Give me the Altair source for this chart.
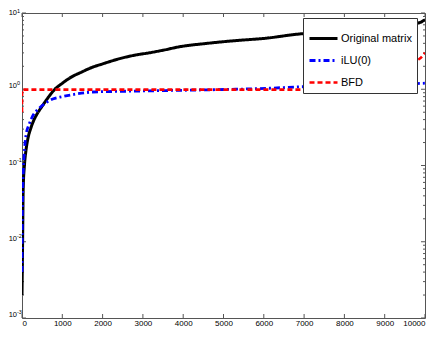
import altair as alt
import pandas as pd

# ---- data ----
series_names = ["Original matrix", "iLU(0)", "BFD"]

orig_x = [0, 15, 30, 60, 100, 150, 220, 300, 400, 500, 650, 800, 1000, 1200, 1500, 1700,
          2000, 2400, 2800, 3150, 3500, 3900, 4600, 5200, 6100, 6800, 7400, 8000, 8600,
          9200, 9700, 9900, 10000]
orig_y = [0.002, 0.01, 0.05, 0.1, 0.16, 0.23, 0.31, 0.4, 0.5, 0.6, 0.78, 0.98, 1.2, 1.42,
          1.7, 1.9, 2.15, 2.5, 2.8, 3.0, 3.25, 3.6, 4.0, 4.3, 4.7, 5.25, 5.6, 6.0, 6.4,
          6.8, 7.2, 7.6, 8.2]

ilu_x = [0, 10, 30, 50, 100, 180, 260, 420, 600, 780, 1000, 1370, 1760, 2500, 3500, 4500,
         5300, 6100, 7000, 8000, 9000, 9500, 10000]
ilu_y = [0.004, 0.03, 0.08, 0.13, 0.25, 0.35, 0.44, 0.56, 0.67, 0.75, 0.8, 0.87, 0.92,
         0.94, 0.96, 0.98, 1.0, 1.03, 1.08, 1.1, 1.14, 1.17, 1.2]

bfd_x = [0, 1, 30, 9100, 9270, 9390, 9560, 9710, 9800, 9900, 10000]
bfd_y = [0.5, 0.99, 0.99, 0.99, 1.1, 1.28, 1.55, 2.0, 2.35, 2.6, 3.0]

x_ticks = [0, 1000, 2000, 3000, 4000, 5000, 6000, 7000, 8000, 9000, 10000]
y_major = [0.001, 0.01, 0.1, 1, 10]
y_exponents = ["-3", "-2", "-1", "0", "1"]
y_minor = [m * d for d in [0.001, 0.01, 0.1, 1] for m in range(2, 10)]

rows = []
for name, xs, ys in [(series_names[0], orig_x, orig_y),
                     (series_names[1], ilu_x, ilu_y),
                     (series_names[2], bfd_x, bfd_y)]:
    for i, (a, b) in enumerate(zip(xs, ys)):
        rows.append({"series": name, "x": a, "y": b, "i": i})
df = pd.DataFrame(rows)

W, H = 403, 305
FONT = "Liberation Sans"

xscale = alt.Scale(domain=[0, 10000], nice=False, zero=False)
yscale = alt.Scale(type="log", domain=[0.001, 10], nice=False)

lines = alt.Chart(df).mark_line(clip=True, interpolate="monotone").encode(
    x=alt.X("x:Q", scale=xscale,
            axis=alt.Axis(values=x_ticks, title=None, ticks=False, domain=False, grid=False,
                          labelFont=FONT, labelFontSize=8, labelColor="#000",
                          labelPadding=1, labelFlush=True, format="d")),
    y=alt.Y("y:Q", scale=yscale,
            axis=alt.Axis(values=y_major, title=None, ticks=False, domain=False, grid=False,
                          labels=False)),
    color=alt.Color("series:N", scale=alt.Scale(domain=series_names,
                                                range=["#000000", "#0000ff", "#ff0000"]),
                    title=None),
    strokeDash=alt.StrokeDash("series:N", scale=alt.Scale(domain=series_names,
                                                          range=[[1, 0], [6, 3, 2, 3], [5, 3]]),
                              title=None),
    strokeWidth=alt.StrokeWidth("series:N", scale=alt.Scale(domain=series_names,
                                                            range=[3, 2.6, 2.6]),
                                title=None),
    order="i:Q",
)

tick_color = "#555555"
xt = pd.DataFrame({"v": x_ticks})
ymaj = pd.DataFrame({"v": y_major, "e": y_exponents})
ymin = pd.DataFrame({"v": y_minor})

xt_bottom = alt.Chart(xt).mark_rule(color=tick_color, strokeWidth=1).encode(
    x=alt.X("v:Q", scale=xscale), y=alt.value(H), y2=alt.value(H - 4))
xt_top = alt.Chart(xt).mark_rule(color=tick_color, strokeWidth=1).encode(
    x=alt.X("v:Q", scale=xscale), y=alt.value(0), y2=alt.value(4))
yt_left = alt.Chart(ymaj).mark_rule(color=tick_color, strokeWidth=1).encode(
    y=alt.Y("v:Q", scale=yscale), x=alt.value(0), x2=alt.value(4))
yt_right = alt.Chart(ymaj).mark_rule(color=tick_color, strokeWidth=1).encode(
    y=alt.Y("v:Q", scale=yscale), x=alt.value(W), x2=alt.value(W - 4))
ym_left = alt.Chart(ymin).mark_rule(color=tick_color, strokeWidth=1).encode(
    y=alt.Y("v:Q", scale=yscale), x=alt.value(0), x2=alt.value(2))
ym_right = alt.Chart(ymin).mark_rule(color=tick_color, strokeWidth=1).encode(
    y=alt.Y("v:Q", scale=yscale), x=alt.value(W), x2=alt.value(W - 2))

base_lo = alt.Chart(ymaj).transform_filter("datum.v < 10")
base_hi = alt.Chart(ymaj).transform_filter("datum.v >= 10")
ten_lo = base_lo.mark_text(font=FONT, fontSize=7.5, align="right", baseline="middle",
                           dy=-3, color="#000", text="10").encode(
    y=alt.Y("v:Q", scale=yscale), x=alt.value(-5))
ten_hi = base_hi.mark_text(font=FONT, fontSize=7.5, align="right", baseline="middle",
                           dy=0, color="#000", text="10").encode(
    y=alt.Y("v:Q", scale=yscale), x=alt.value(-5))
exp_lo = base_lo.mark_text(font=FONT, fontSize=5.5, align="left", baseline="middle",
                           dy=-6, color="#000").encode(
    y=alt.Y("v:Q", scale=yscale), x=alt.value(-5), text="e:N")
exp_hi = base_hi.mark_text(font=FONT, fontSize=5.5, align="left", baseline="middle",
                           dy=-2.5, color="#000").encode(
    y=alt.Y("v:Q", scale=yscale), x=alt.value(-5), text="e:N")

chart = alt.layer(xt_bottom, xt_top, yt_left, yt_right, ym_left, ym_right,
                  ten_lo, ten_hi, exp_lo, exp_hi, lines).properties(
    width=W, height=H,
    autosize=alt.AutoSizeParams(type="none"),
    padding={"left": 14, "top": 5, "right": 1, "bottom": 10},
    background="white",
).configure_view(
    stroke="#555555", strokeWidth=1
).configure_legend(
    orient="none", legendX=281, legendY=5,
    fillColor="white", strokeColor="#333333", padding=5,
    symbolType="stroke", symbolSize=784, symbolStrokeColor="black",
    labelFont=FONT, labelFontSize=11, labelColor="#000", labelOffset=2,
    rowPadding=-6, titlePadding=0,
)

chart.save("out.html", embed_options={"renderer": "svg", "actions": False})
